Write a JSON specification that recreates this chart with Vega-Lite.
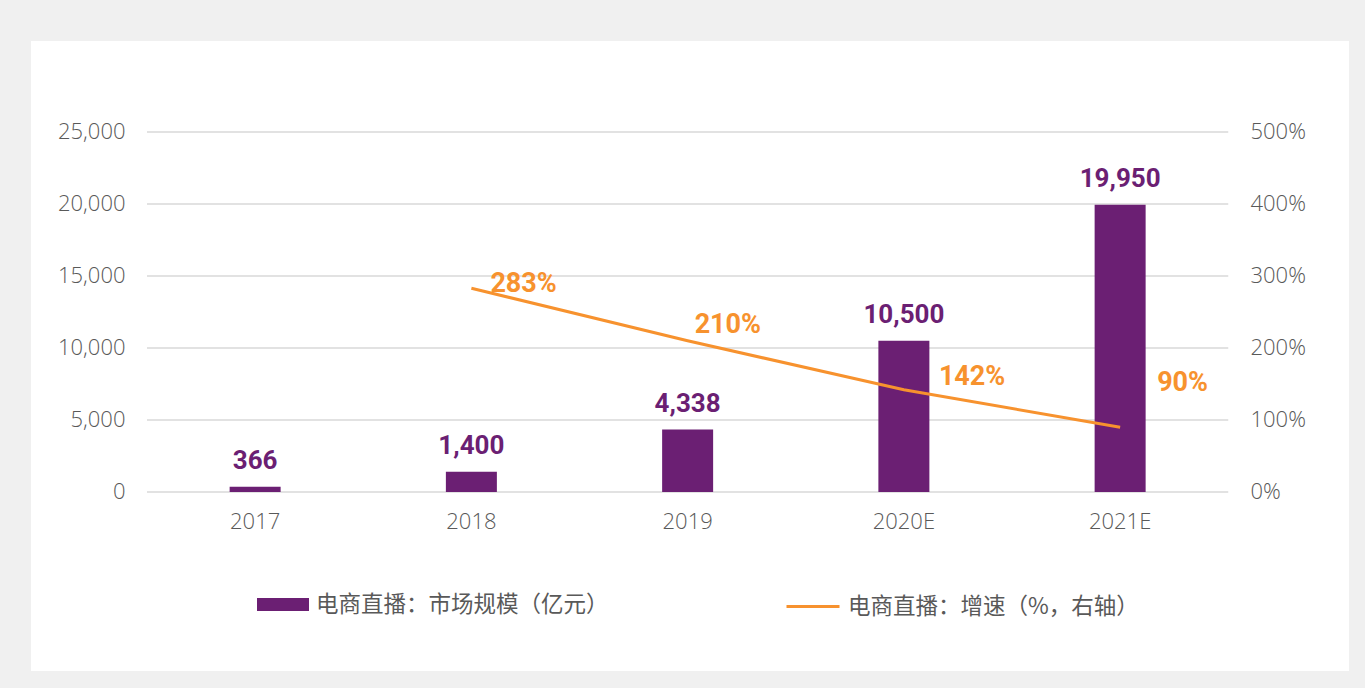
{
  "$schema": "https://vega.github.io/schema/vega-lite/v6.json",
  "width": 1318,
  "height": 630,
  "autosize": {"type": "none"},
  "padding": {"left": 31, "top": 41, "right": 16, "bottom": 17},
  "background": "#f0f0f0",
  "config": {
    "view": {"fill": "#ffffff", "stroke": null},
    "font": "Roboto",
    "legend": {"padding": 0, "offset": 0}
  },
  "data": {
    "values": [
      {"year": "2017", "size": 366, "growth": null},
      {"year": "2018", "size": 1400, "growth": 2.83},
      {"year": "2019", "size": 4338, "growth": 2.10},
      {"year": "2020E", "size": 10500, "growth": 1.42},
      {"year": "2021E", "size": 19950, "growth": 0.90}
    ]
  },
  "layer": [
    {
      "layer": [
        {
          "data": {"values": [{"tick": 0}, {"tick": 5000}, {"tick": 10000}, {"tick": 15000}, {"tick": 20000}, {"tick": 25000}]},
          "mark": {"type": "rule", "color": "#d9d9d9", "strokeWidth": 1.5},
          "encoding": {
            "x": {
              "datum": "2017",
              "type": "nominal",
              "bandPosition": 0,
              "scale": {"type": "band", "paddingInner": 0, "paddingOuter": 0.5474, "align": 0.49},
              "axis": {
                "orient": "bottom",
                "offset": -179,
                "labelAngle": 0,
                "labelPadding": 19,
                "labelFont": "Open Sans",
                "labelFontWeight": 300,
                "labelFontSize": 22,
                "labelColor": "#595959",
                "domain": false,
                "ticks": false,
                "grid": false,
                "title": null
              }
            },
            "x2": {"datum": "2021E", "bandPosition": 1},
            "y": {
              "field": "tick",
              "type": "quantitative",
              "scale": {"domain": [-12430.6, 31319.4], "nice": false, "zero": false},
              "axis": {
                "orient": "left",
                "values": [0, 5000, 10000, 15000, 20000, 25000],
                "format": ",.0f",
                "offset": -94,
                "grid": false,
                "domain": false,
                "ticks": false,
                "labelPadding": 0,
                "labelFont": "Open Sans",
                "labelFontWeight": 300,
                "labelFontSize": 22,
                "labelColor": "#595959",
                "labelOverlap": false,
                "title": null
              }
            }
          }
        },
        {
          "mark": {"type": "bar", "width": 51},
          "encoding": {
            "x": {"field": "year", "type": "nominal"},
            "y": {"field": "size", "type": "quantitative"},
            "color": {
              "datum": "电商直播：市场规模（亿元）",
              "type": "nominal",
              "scale": {"range": ["#6b1f73"]},
              "legend": {
                "orient": "none",
                "legendX": 226,
                "legendY": 537.5,
                "title": null,
                "symbolType": "M-1,-0.25H1V0.25H-1Z",
                "symbolSize": 2704,
                "symbolStrokeWidth": 0,
                "labelOffset": 7,
                "labelFont": "Noto Sans CJK SC",
                "labelFontSize": 22.5,
                "labelColor": "#595959",
                "labelLimit": 500
              }
            }
          }
        },
        {
          "mark": {"type": "text", "font": "Roboto", "fontWeight": "bold", "fontSize": 26, "color": "#6b1f73", "baseline": "alphabetic", "dy": -18},
          "encoding": {
            "x": {"field": "year", "type": "nominal"},
            "y": {"field": "size", "type": "quantitative"},
            "text": {"field": "size", "type": "quantitative", "format": ","}
          }
        }
      ]
    },
    {
      "layer": [
        {
          "transform": [{"filter": "datum.growth != null"}],
          "mark": {"type": "line", "strokeWidth": 3},
          "encoding": {
            "x": {"field": "year", "type": "nominal"},
            "y": {
              "field": "growth",
              "type": "quantitative",
              "scale": {"domain": [-2.48612, 6.26388], "nice": false, "zero": false},
              "axis": {
                "orient": "right",
                "values": [0, 1, 2, 3, 4, 5],
                "format": ".0%",
                "offset": -99,
                "grid": false,
                "domain": false,
                "ticks": false,
                "labelPadding": 0,
                "labelFont": "Open Sans",
                "labelFontWeight": 300,
                "labelFontSize": 22,
                "labelColor": "#595959",
                "labelOverlap": false,
                "title": null
              }
            },
            "stroke": {
              "datum": "电商直播：增速（%，右轴）",
              "type": "nominal",
              "scale": {"range": ["#f7922e"]},
              "legend": {
                "orient": "none",
                "legendX": 754,
                "legendY": 537.5,
                "title": null,
                "symbolType": "stroke",
                "symbolSize": 2809,
                "symbolStrokeWidth": 3,
                "labelOffset": 7,
                "labelFont": "Noto Sans CJK SC",
                "labelFontSize": 22.5,
                "labelColor": "#595959",
                "labelLimit": 500
              }
            }
          }
        },
        {
          "transform": [{"filter": "datum.year == '2018'"}],
          "mark": {"type": "text", "font": "Roboto", "fontWeight": "bold", "fontSize": 27, "color": "#f7922e", "align": "left", "baseline": "alphabetic", "dx": 19, "dy": 4},
          "encoding": {
            "x": {"field": "year", "type": "nominal"},
            "y": {"field": "growth", "type": "quantitative"},
            "text": {"field": "growth", "type": "quantitative", "format": ".0%"}
          }
        },
        {
          "transform": [{"filter": "datum.year == '2019'"}],
          "mark": {"type": "text", "font": "Roboto", "fontWeight": "bold", "fontSize": 27, "color": "#f7922e", "align": "left", "baseline": "alphabetic", "dx": 7, "dy": -8},
          "encoding": {
            "x": {"field": "year", "type": "nominal"},
            "y": {"field": "growth", "type": "quantitative"},
            "text": {"field": "growth", "type": "quantitative", "format": ".0%"}
          }
        },
        {
          "transform": [{"filter": "datum.year == '2020E'"}],
          "mark": {"type": "text", "font": "Roboto", "fontWeight": "bold", "fontSize": 27, "color": "#f7922e", "align": "left", "baseline": "alphabetic", "dx": 35, "dy": -5},
          "encoding": {
            "x": {"field": "year", "type": "nominal"},
            "y": {"field": "growth", "type": "quantitative"},
            "text": {"field": "growth", "type": "quantitative", "format": ".0%"}
          }
        },
        {
          "transform": [{"filter": "datum.year == '2021E'"}],
          "mark": {"type": "text", "font": "Roboto", "fontWeight": "bold", "fontSize": 27, "color": "#f7922e", "align": "left", "baseline": "alphabetic", "dx": 37, "dy": -36},
          "encoding": {
            "x": {"field": "year", "type": "nominal"},
            "y": {"field": "growth", "type": "quantitative"},
            "text": {"field": "growth", "type": "quantitative", "format": ".0%"}
          }
        }
      ]
    }
  ],
  "resolve": {"scale": {"y": "independent"}}
}
